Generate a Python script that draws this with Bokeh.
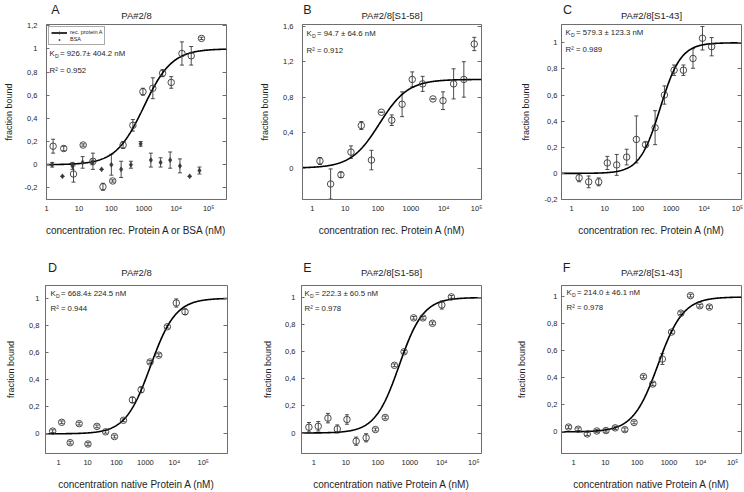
import numpy as np
from bokeh.plotting import figure
from bokeh.layouts import column, row
from bokeh.models import (ColumnDataSource, Whisker, TeeHead, Label, FixedTicker,
                          LinearAxis, Range1d, Legend, LegendItem)
from bokeh.embed import file_html
from bokeh.resources import INLINE

FONT = "Liberation Sans"
INK = "#1e1e1e"
FRAME = "#6e6e6e"
MARK = "#383838"

# ---------------- data ----------------
x_ticks = [1, 10, 100, 1000, 10000, 100000]
x_tick_labels = ["1", "10", "100", "1000", "10⁴", "10⁵"]

# Panel A  (rec. protein A and BSA)
a_rec_x = [1.6, 3.4, 6.8, 13.5, 27, 55, 110, 230, 460, 940, 1900, 3800, 7000, 15000, 29000, 60000]
a_rec_y = [0.16, 0.14, -0.08, 0.17, 0.03, -0.19, -0.14, 0.17, 0.34, 0.63, 0.66, 0.79, 0.71, 0.96, 0.94, 1.09]
a_rec_err = [0.06, 0.02, 0.07, 0.01, 0.07, 0.03, 0.01, 0.03, 0.05, 0.03, 0.09, 0.03, 0.05, 0.10, 0.08, 0.01]
a_bsa_x = [1.5, 3.1, 6.3, 13, 26, 50, 100, 200, 400, 800, 1650, 3300, 6500, 13000, 26000, 52000]
a_bsa_y = [0.0, -0.10, -0.01, 0.02, 0.02, -0.04, 0.0, -0.04, 0.0, 0.18, 0.04, 0.02, 0.04, -0.01, -0.10, -0.05]
a_bsa_err = [0.02, 0.0, 0.03, 0.05, 0.02, 0.0, 0.09, 0.07, 0.03, 0.02, 0.06, 0.04, 0.07, 0.06, 0.0, 0.03]
a_fit_mid, a_fit_hill = 1000, 1.0

# Panel B
b_x = [1.7, 3.6, 7.4, 15, 31, 63, 126, 262, 540, 1100, 2280, 4700, 9500, 20000, 41000, 85000]
b_y = [0.08, -0.18, -0.076, 0.18, 0.48, 0.09, 0.63, 0.54, 0.72, 1.0, 0.95, 0.78, 0.76, 0.95, 1.0, 1.4]
b_err = [0.04, 0.17, 0.03, 0.07, 0.045, 0.11, 0.0, 0.06, 0.14, 0.085, 0.085, 0.0, 0.10, 0.17, 0.20, 0.075]
b_fit_mid, b_fit_hill = 110, 1.0

# Panel C
c_x = [1.7, 3.3, 6.6, 12, 23, 46, 90, 170, 330, 630, 1230, 2350, 4570, 8800, 16600]
c_y = [-0.034, -0.065, -0.065, 0.08, 0.065, 0.125, 0.26, 0.22, 0.35, 0.60, 0.79, 0.79, 0.88, 1.035, 0.97]
c_err = [0.03, 0.045, 0.03, 0.05, 0.08, 0.06, 0.18, 0.02, 0.13, 0.07, 0.04, 0.04, 0.075, 0.09, 0.07]
c_fit_mid, c_fit_hill = 470, 1.4

# Panel D
d_x = [0.62, 1.27, 2.5, 5.1, 10.3, 21, 42, 85, 174, 355, 710, 1450, 2900, 5750, 11700, 23500]
d_y = [0.02, 0.085, -0.065, 0.075, -0.075, 0.055, 0.015, -0.02, 0.10, 0.25, 0.325, 0.53, 0.58, 0.79, 0.965, 0.90]
d_err = [0.01, 0.01, 0.01, 0.01, 0.01, 0.01, 0.01, 0.01, 0.01, 0.02, 0.02, 0.01, 0.01, 0.01, 0.03, 0.02]
d_fit_mid, d_fit_hill = 1500, 1.0

# Panel E
e_x = [0.7, 1.37, 2.75, 5.4, 10.8, 21, 43, 84, 170, 330, 660, 1320, 2570, 5100, 10000, 19900]
e_y = [0.043, 0.05, 0.11, 0.03, 0.10, -0.06, -0.035, 0.026, 0.115, 0.50, 0.60, 0.85, 0.85, 0.81, 0.945, 1.005]
e_err = [0.035, 0.035, 0.035, 0.03, 0.035, 0.03, 0.03, 0.01, 0.01, 0.01, 0.01, 0.01, 0.01, 0.01, 0.03, 0.01]
e_fit_mid, e_fit_hill = 466, 1.15

# Panel F
f_x = [0.7, 1.4, 2.7, 5.4, 10.5, 20.5, 41, 80, 158, 310, 620, 1210, 2370, 4750, 9300, 18600]
f_y = [0.036, 0.02, -0.015, 0.007, 0.01, 0.03, 0.017, 0.07, 0.41, 0.355, 0.54, 0.74, 0.88, 1.01, 0.935, 0.925]
f_err = [0.01, 0.01, 0.012, 0.01, 0.012, 0.012, 0.012, 0.01, 0.01, 0.012, 0.04, 0.01, 0.01, 0.01, 0.01, 0.01]
f_fit_mid, f_fit_hill = 456, 1.1

y_ticks_a = [-0.2, 0, 0.2, 0.4, 0.6, 0.8, 1, 1.2]
y_labels_a = ["-0,2", "0", "0,2", "0,4", "0,6", "0,8", "1", "1,2"]
y_ticks_b = [0, 0.4, 0.8, 1.2, 1.6]
y_labels_b = ["0", "0,4", "0,8", "1,2", "1,6"]
y_ticks_c = [-0.2, 0, 0.2, 0.4, 0.6, 0.8, 1]
y_labels_c = ["-0,2", "0", "0,2", "0,4", "0,6", "0,8", "1"]
y_ticks_def = [0, 0.2, 0.4, 0.6, 0.8, 1]
y_labels_def = ["0", "0,2", "0,4", "0,6", "0,8", "1"]

# ---------------- layout (pixels) ----------------
HEAD1, HEAD2 = 21, 22          # header strips holding panel letters and titles
ROW1_H, ROW2_H = 237, 212
ROW1_B = (3, 59)                # top / bottom borders of row-1 panels
ROW2_B = (5, 35)

panels = [
    dict(letter="A", title="PA#2/8", xlabel="concentration rec. Protein A or BSA (nM)",
         xr=(1, 10 ** 5.55), yr=(-0.3, 1.21), yt=y_ticks_a, yl=y_labels_a,
         W=254, H=ROW1_H, mb=(46, 28) + ROW1_B, fw=180, fh=175,
         series=[(a_rec_x, a_rec_y, a_rec_err, "rec"), (a_bsa_x, a_bsa_y, a_bsa_err, "bsa")],
         fit=(a_fit_mid, a_fit_hill), kd="= 926.7± 404.2 nM", r2="R² = 0.952",
         tdx=3, kdy=29, r2y=46, ldx=9, ts=9, ls=8),
    dict(letter="B", title="PA#2/8[S1-58]", xlabel="concentration rec. Protein A (nM)",
         xr=(10 ** -0.3, 10 ** 5.15), yr=(-0.355, 1.62), yt=y_ticks_b, yl=y_labels_b,
         W=247, H=ROW1_H, mb=(48, 20) + ROW1_B, fw=179, fh=175,
         series=[(b_x, b_y, b_err, "rec")],
         fit=(b_fit_mid, b_fit_hill), kd="= 94.7 ± 64.6 nM", r2="R² = 0.912",
         tdx=4, kdy=9, r2y=26, ldx=5, ts=9, ls=10),
    dict(letter="C", title="PA#2/8[S1-43]", xlabel="concentration rec. Protein A (nM)",
         xr=(10 ** -0.3, 10 ** 5.12), yr=(-0.2, 1.14), yt=y_ticks_c, yl=y_labels_c,
         W=243, H=ROW1_H, mb=(60, 3) + ROW1_B, fw=180, fh=175,
         series=[(c_x, c_y, c_err, "rec")],
         fit=(c_fit_mid, c_fit_hill), kd="= 579.3 ± 123.3 nM", r2="R² = 0.989",
         tdx=4, kdy=8, r2y=25, ldx=6, ts=4, ls=11),
    dict(letter="D", title="PA#2/8", xlabel="concentration native Protein A (nM)",
         xr=(0.35, 6.9e5), yr=(-0.145, 1.094), yt=y_ticks_def, yl=y_labels_def,
         W=254, H=ROW2_H, mb=(45, 27) + ROW2_B, fw=182, fh=172,
         series=[(d_x, d_y, d_err, "rec")],
         fit=(d_fit_mid, d_fit_hill), kd="= 668.4± 224.5 nM", r2="R² = 0.944",
         tdx=5, kdy=8, r2y=24, ldx=7, ts=6, ls=10),
    dict(letter="E", title="PA#2/8[S1-58]", xlabel="concentration native Protein A (nM)",
         xr=(0.41, 1.74e5), yr=(-0.151, 1.089), yt=y_ticks_def, yl=y_labels_def,
         W=247, H=ROW2_H, mb=(47, 20) + ROW2_B, fw=180, fh=172,
         series=[(e_x, e_y, e_err, "rec")],
         fit=(e_fit_mid, e_fit_hill), kd="= 222.3 ± 60.5 nM", r2="R² = 0.978",
         tdx=3, kdy=8, r2y=24, ldx=6, ts=6, ls=9),
    dict(letter="F", title="PA#2/8[S1-43]", xlabel="concentration native Protein A (nM)",
         xr=(0.42, 1.9e5), yr=(-0.16, 1.085), yt=y_ticks_def, yl=y_labels_def,
         W=243, H=ROW2_H, mb=(60, 3) + ROW2_B, fw=180, fh=172,
         series=[(f_x, f_y, f_err, "rec")],
         fit=(f_fit_mid, f_fit_hill), kd="= 214.0 ± 46.1 nM", r2="R² = 0.978",
         tdx=5, kdy=7, r2y=23, ldx=5, ts=4, ls=17),
]


def place(cfg, dx, dy):
    """pixel offset from the frame's top-left corner -> data coordinates"""
    lx0, lx1 = np.log10(cfg["xr"][0]), np.log10(cfg["xr"][1])
    y0, y1 = cfg["yr"]
    x = 10 ** (lx0 + dx / cfg["fw"] * (lx1 - lx0))
    y = y1 - dy / cfg["fh"] * (y1 - y0)
    return float(x), float(y)


def add_text(p, cfg, dx, dy, text, size, align="left"):
    x, y = place(cfg, dx, dy)
    p.add_layout(Label(x=x, y=y, text=text, text_font=FONT, text_font_size=size,
                       text_color=INK, text_align=align, text_baseline="middle"))


def make_panel(cfg):
    ml, mr, mt, mb = cfg["mb"]
    p = figure(width=cfg["W"], height=cfg["H"], x_axis_type="log",
               x_range=Range1d(*cfg["xr"]), y_range=Range1d(*cfg["yr"]),
               output_backend="svg", toolbar_location=None,
               min_border_left=ml, min_border_right=mr, min_border_top=mt, min_border_bottom=mb)
    p.xgrid.visible = False
    p.ygrid.visible = False
    p.outline_line_color = FRAME
    p.outline_line_width = 1
    p.background_fill_color = "white"
    p.border_fill_color = "white"

    xa = p.xaxis[0]
    xa.ticker = FixedTicker(ticks=x_ticks, minor_ticks=[])
    xa.major_label_overrides = dict(zip(x_ticks, x_tick_labels))
    xa.axis_line_color = FRAME
    xa.major_tick_in = 0
    xa.major_tick_out = 0
    xa.minor_tick_line_color = None
    xa.major_label_text_font = FONT
    xa.major_label_text_font_size = "7.5px"
    xa.major_label_text_color = INK
    xa.major_label_standoff = 4
    xa.axis_label = cfg["xlabel"]
    xa.axis_label_text_font = FONT
    xa.axis_label_text_font_size = "10px"
    xa.axis_label_text_font_style = "normal"
    xa.axis_label_text_color = INK
    xa.axis_label_standoff = 9

    ya = p.yaxis[0]
    ya.ticker = FixedTicker(ticks=cfg["yt"], minor_ticks=[])
    ya.major_label_overrides = dict(zip(cfg["yt"], cfg["yl"]))
    ya.axis_line_color = FRAME
    ya.major_tick_in = 3
    ya.major_tick_out = 0
    ya.major_tick_line_color = FRAME
    ya.minor_tick_line_color = None
    ya.major_label_text_font = FONT
    ya.major_label_text_font_size = "7.5px"
    ya.major_label_text_color = INK
    ya.major_label_standoff = cfg["ts"]
    ya.axis_label = "fraction bound"
    ya.axis_label_text_font = FONT
    ya.axis_label_text_font_size = "9px"
    ya.axis_label_text_font_style = "normal"
    ya.axis_label_text_color = INK
    ya.axis_label_standoff = cfg["ls"]

    # fitted binding curve
    mid, hill = cfg["fit"]
    cx = np.logspace(np.log10(cfg["xr"][0]), np.log10(cfg["xr"][1]), 300)
    cy = cx ** hill / (mid ** hill + cx ** hill)
    curve = p.line(cx, cy, line_color="black", line_width=1.6)

    rends = {}
    for xs, ys, es, kind in cfg["series"]:
        src = ColumnDataSource(dict(x=xs, y=ys,
                                    lo=[y - e for y, e in zip(ys, es)],
                                    hi=[y + e for y, e in zip(ys, es)]))
        w = Whisker(source=src, base="x", lower="lo", upper="hi", dimension="height",
                    line_color=MARK, line_width=0.9,
                    upper_head=TeeHead(size=4, line_color=MARK, line_width=0.9),
                    lower_head=TeeHead(size=4, line_color=MARK, line_width=0.9))
        p.add_layout(w)
        if kind == "rec":
            r = p.scatter("x", "y", source=src, marker="circle", size=6.5,
                          fill_color=None, line_color=MARK, line_width=0.9)
        else:
            r = p.scatter("x", "y", source=src, marker="diamond", size=5,
                          fill_color=MARK, line_color=MARK, line_width=0.6)
        rends[kind] = r

    if "bsa" in rends:
        leg = Legend(items=[LegendItem(label="rec. protein A", renderers=[curve, rends["rec"]]),
                            LegendItem(label="BSA", renderers=[rends["bsa"]])],
                     location="top_left", label_text_font=FONT, label_text_font_size="5.5px",
                     label_text_color=INK, glyph_width=16, glyph_height=5, label_height=5,
                     label_standoff=3, spacing=1, padding=2, margin=2,
                     border_line_color="#555555", border_line_width=0.8,
                     background_fill_color="white", background_fill_alpha=1)
        p.add_layout(leg)

    # K_D and R^2 annotations inside the frame
    add_text(p, cfg, cfg["tdx"], cfg["kdy"], "K", "7.8px")
    add_text(p, cfg, cfg["tdx"] + 5.4, cfg["kdy"] + 2.3, "D", "5.2px")
    add_text(p, cfg, cfg["tdx"] + 10.5, cfg["kdy"], cfg["kd"], "7.8px")
    add_text(p, cfg, cfg["tdx"], cfg["r2y"], cfg["r2"], "7.8px")

    # inward ticks on the right side of the frame
    ra = LinearAxis(ticker=FixedTicker(ticks=cfg["yt"], minor_ticks=[]),
                    major_label_overrides={t: "" for t in cfg["yt"]},
                    major_label_text_font_size="0px", major_label_standoff=0,
                    axis_line_color=None, major_tick_in=4, major_tick_out=0,
                    major_tick_line_color=FRAME, minor_tick_line_color=None)
    p.add_layout(ra, "right")
    return p


def make_header(cfgs, height, letter_y, title_y):
    """strip above a row of panels carrying the panel letters and titles"""
    total_w = sum(c["W"] for c in cfgs)
    h = figure(width=total_w, height=height, x_range=Range1d(0, total_w),
               y_range=Range1d(height, 0), output_backend="svg", toolbar_location=None,
               x_axis_location=None, y_axis_location=None,
               min_border_left=0, min_border_right=0, min_border_top=0, min_border_bottom=0)
    h.xgrid.visible = False
    h.ygrid.visible = False
    h.outline_line_color = None
    h.background_fill_color = "white"
    h.border_fill_color = "white"
    left = 0
    for c in cfgs:
        frame_left = left + c["mb"][0]
        h.add_layout(Label(x=frame_left + c["ldx"], y=letter_y, text=c["letter"],
                           text_font=FONT, text_font_size="12.5px", text_color=INK,
                           text_align="center", text_baseline="middle"))
        h.add_layout(Label(x=frame_left + c["fw"] / 2, y=title_y, text=c["title"],
                           text_font=FONT, text_font_size="9.5px", text_color=INK,
                           text_align="center", text_baseline="middle"))
        left += c["W"]
    return h


figs = [make_panel(c) for c in panels]
head1 = make_header(panels[:3], HEAD1, 9, 14.5)
head2 = make_header(panels[3:], HEAD2, 9, 14)
layout = column(head1, row(*figs[:3]), head2, row(*figs[3:]))
open("out.html", "w").write(file_html(layout, INLINE))
